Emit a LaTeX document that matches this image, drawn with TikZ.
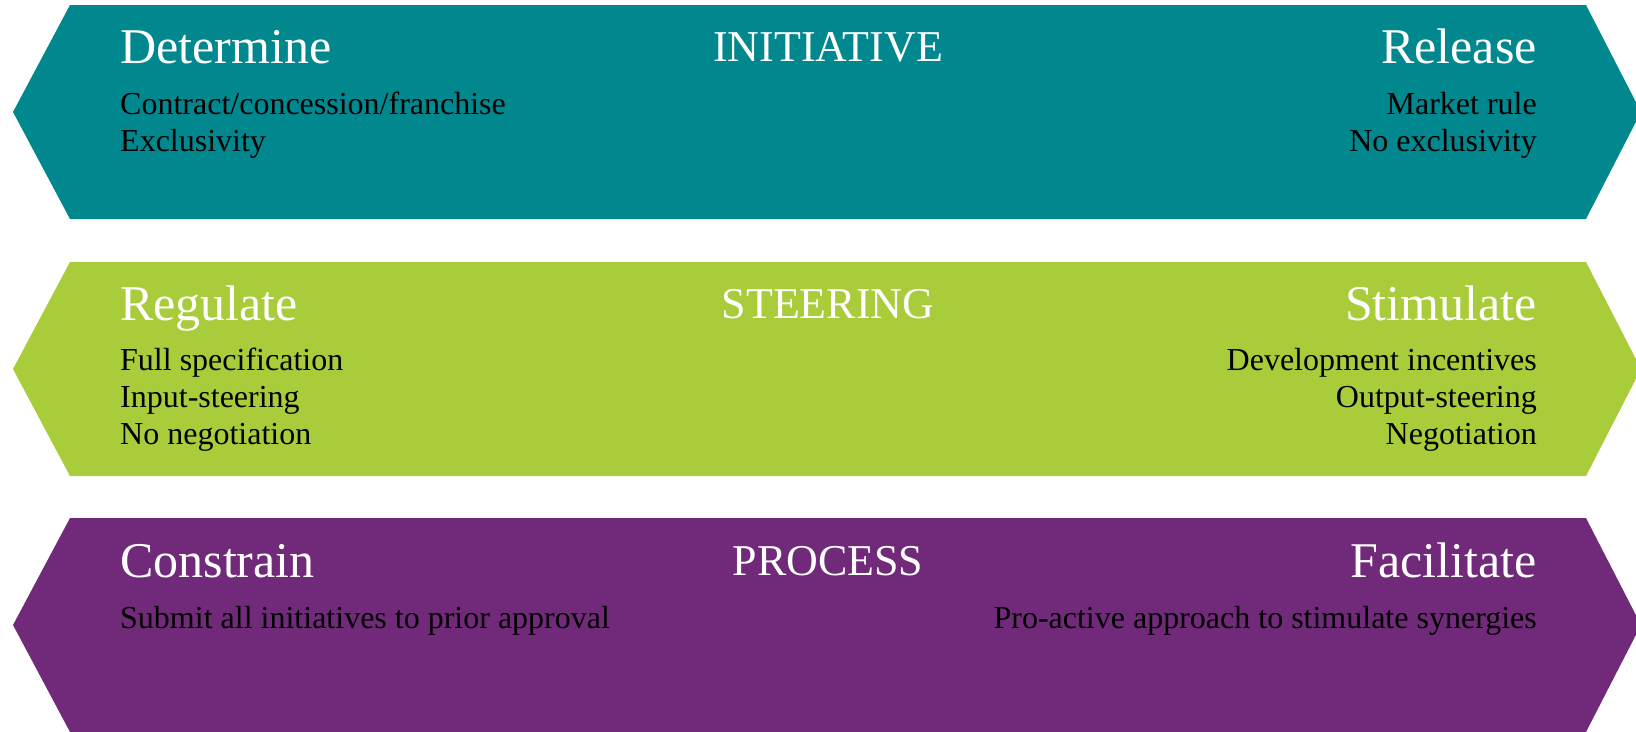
\documentclass[tikz,border=0pt]{standalone}
\usepackage{fontspec}
\setmainfont{Liberation Serif}
\usetikzlibrary{calc}

\definecolor{initcol}{RGB}{0,136,142}
\definecolor{steercol}{RGB}{169,204,58}
\definecolor{proccol}{RGB}{113,42,122}

\tikzset{
 headl/.style={anchor=base west, inner sep=0pt, text=white, font=\fontsize{50}{60}\selectfont},
 headr/.style={headl, anchor=base east},
 bandtitle/.style={anchor=base, inner sep=0pt, text=white, font=\fontsize{44}{52}\selectfont},
 iteml/.style={anchor=base west, inner sep=0pt, text=black, font=\fontsize{32}{37}\selectfont},
 itemr/.style={iteml, anchor=base east},
}

\begin{document}
\begin{tikzpicture}[x=1pt,y=-1pt]
\useasboundingbox (0,0) rectangle (1636,731);
\foreach \t/\c in {5/initcol,262/steercol,518/proccol} {
 \fill[\c] (13,\t+107) -- (70,\t) -- (1586,\t) -- (1641,\t+107) -- (1586,\t+214) -- (70,\t+214) -- cycle;
}
% initiative
\node[headl] (determine) at (120,63) {Determine};
\node[bandtitle] (initiative) at (828,61) {INITIATIVE};
\node[headr] (release) at (1537,63) {Release};
\foreach \txt [count=\i] in {{Contract/concession/franchise},Exclusivity}
 \node[iteml] (det\i) at (120,{114+37*(\i-1)}) {\txt};
\foreach \txt [count=\i] in {Market rule,No exclusivity}
 \node[itemr] (rel\i) at (1537,{114+37*(\i-1)}) {\txt};
% steering
\node[headl] (regulate) at (120,320) {Regulate};
\node[bandtitle] (steering) at (828,318) {STEERING};
\node[headr] (stimulate) at (1537,320) {Stimulate};
\foreach \txt [count=\i] in {Full specification,Input-steering,No negotiation}
 \node[iteml] (reg\i) at (120,{370+37*(\i-1)}) {\txt};
\foreach \txt [count=\i] in {Development incentives,Output-steering,Negotiation}
 \node[itemr] (stim\i) at (1537,{370+37*(\i-1)}) {\txt};
% process
\node[headl] (constrain) at (120,577) {Constrain};
\node[bandtitle] (process) at (828,575) {PROCESS};
\node[headr] (facilitate) at (1537,577) {Facilitate};
\node[iteml] (con1) at (120,628) {Submit all initiatives to prior approval};
\node[itemr] (fac1) at (1537,628) {Pro-active approach to stimulate synergies};
\end{tikzpicture}
\end{document}
